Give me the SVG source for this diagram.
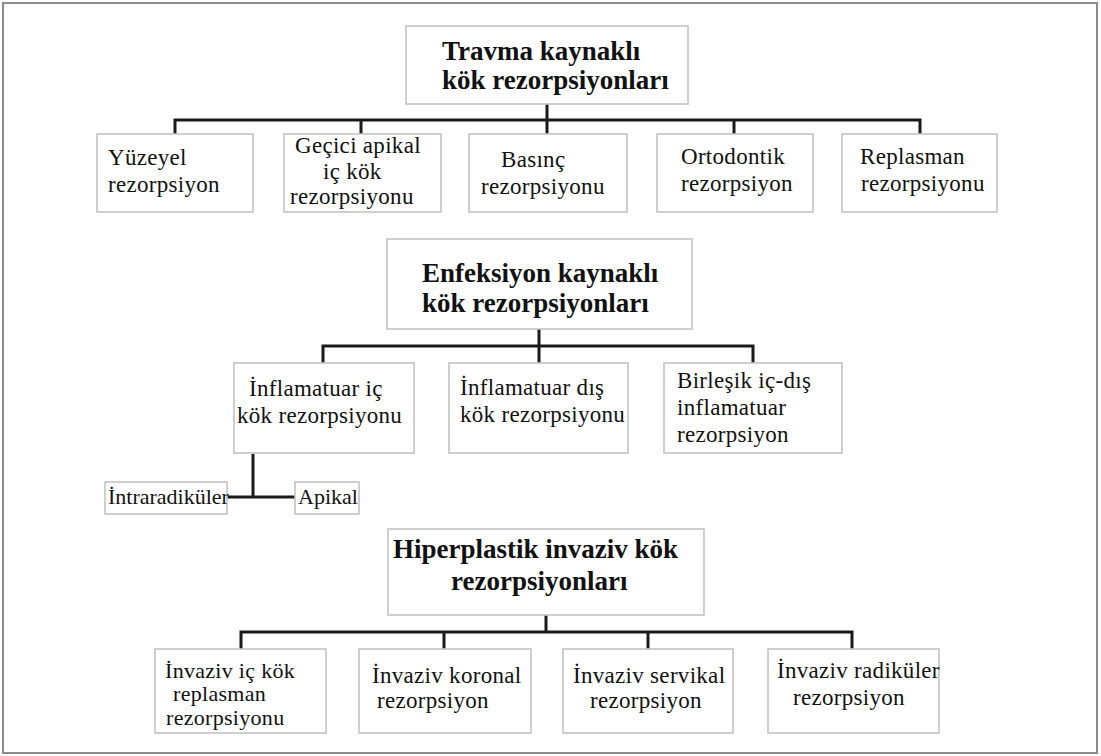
<svg xmlns="http://www.w3.org/2000/svg" width="1101" height="756" viewBox="0 0 1101 756">
<style>
.frame{fill:#fff;stroke:#8c8c8c;stroke-width:2}
.box{fill:#fff;stroke:#c4c4c4;stroke-width:1.6}
.conn{fill:none;stroke:#1a1a1a;stroke-width:3;stroke-linejoin:miter;stroke-linecap:butt}
.h{font-family:"Liberation Serif","Times New Roman",serif;font-weight:bold;font-size:27px;fill:#111}
.t{font-family:"Liberation Serif","Times New Roman",serif;font-size:23px;letter-spacing:0.3px;fill:#111}
.t2{font-family:"Liberation Serif","Times New Roman",serif;font-size:22px;letter-spacing:0.3px;fill:#111}
.s{font-family:"Liberation Serif","Times New Roman",serif;font-size:22px;fill:#111}
</style>
<rect class="frame" x="3" y="3" width="1094" height="750"/>

<g id="connectors">
  <path class="conn" d="M547 104 V135"/>
  <path class="conn" d="M175 134 V120 H920 V134"/>
  <path class="conn" d="M361 134 V120"/>
  <path class="conn" d="M734 134 V120"/>
  <path class="conn" d="M539 329 V364"/>
  <path class="conn" d="M323 364 V346 H753 V364"/>
  <path class="conn" d="M253 454 V497"/>
  <path class="conn" d="M227 497 H295"/>
  <path class="conn" d="M546 615 V632"/>
  <path class="conn" d="M241 649 V632 H852 V649"/>
  <path class="conn" d="M444 649 V632"/>
  <path class="conn" d="M648 649 V632"/>
</g>

<g id="root-travma">
  <rect class="box" x="406" y="26" width="282" height="78"/>
  <text class="h" x="442" y="60">Travma kaynaklı</text>
  <text class="h" x="442" y="89">kök rezorpsiyonları</text>
</g>
<g id="yuzeyel">
  <rect class="box" x="97" y="134" width="156" height="78"/>
  <text class="t" x="108" y="165">Yüzeyel</text>
  <text class="t" x="108" y="192">rezorpsiyon</text>
</g>
<g id="gecici">
  <rect class="box" x="284" y="134" width="157" height="78"/>
  <text class="t" x="295" y="153">Geçici apikal</text>
  <text class="t" x="323" y="179">iç kök</text>
  <text class="t" x="290" y="204">rezorpsiyonu</text>
</g>
<g id="basinc">
  <rect class="box" x="469" y="134" width="158" height="78"/>
  <text class="t" x="501" y="167">Basınç</text>
  <text class="t" x="481" y="194">rezorpsiyonu</text>
</g>
<g id="ortodontik">
  <rect class="box" x="657" y="134" width="156" height="78"/>
  <text class="t" x="681" y="164">Ortodontik</text>
  <text class="t" x="681" y="191">rezorpsiyon</text>
</g>
<g id="replasman">
  <rect class="box" x="842" y="134" width="155" height="78"/>
  <text class="t" x="860" y="164">Replasman</text>
  <text class="t" x="861" y="191">rezorpsiyonu</text>
</g>

<g id="root-enfeksiyon">
  <rect class="box" x="387" y="239" width="305" height="90"/>
  <text class="h" x="422" y="282">Enfeksiyon kaynaklı</text>
  <text class="h" x="422" y="312">kök rezorpsiyonları</text>
</g>
<g id="inflamatuar-ic">
  <rect class="box" x="234" y="363" width="180" height="90"/>
  <text class="t" x="249" y="396">İnflamatuar iç</text>
  <text class="t" x="237" y="423">kök rezorpsiyonu</text>
</g>
<g id="inflamatuar-dis">
  <rect class="box" x="449" y="363" width="179" height="90"/>
  <text class="t" x="460" y="395">İnflamatuar dış</text>
  <text class="t" x="460" y="422">kök rezorpsiyonu</text>
</g>
<g id="birlesik">
  <rect class="box" x="664" y="363" width="178" height="90"/>
  <text class="t" x="677" y="388">Birleşik iç-dış</text>
  <text class="t" x="677" y="415">inflamatuar</text>
  <text class="t" x="677" y="442">rezorpsiyon</text>
</g>
<g id="intraradikuler">
  <rect class="box" x="105" y="482" width="122" height="32"/>
  <text class="s" x="108" y="504">İntraradiküler</text>
</g>
<g id="apikal">
  <rect class="box" x="295" y="482" width="64" height="32"/>
  <text class="s" x="298" y="504">Apikal</text>
</g>

<g id="root-hiperplastik">
  <rect class="box" x="388" y="529" width="316" height="86"/>
  <text class="h" x="393" y="558">Hiperplastik invaziv kök</text>
  <text class="h" x="451" y="590">rezorpsiyonları</text>
</g>
<g id="invaziv-ic">
  <rect class="box" x="155" y="649" width="171" height="84"/>
  <text class="t2" x="165" y="678">İnvaziv iç kök</text>
  <text class="t2" x="173" y="701">replasman</text>
  <text class="t2" x="166" y="725">rezorpsiyonu</text>
</g>
<g id="invaziv-koronal">
  <rect class="box" x="359" y="649" width="172" height="84"/>
  <text class="t" x="372" y="683">İnvaziv koronal</text>
  <text class="t" x="377" y="708">rezorpsiyon</text>
</g>
<g id="invaziv-servikal">
  <rect class="box" x="563" y="649" width="170" height="84"/>
  <text class="t" x="573" y="683">İnvaziv servikal</text>
  <text class="t" x="590" y="708">rezorpsiyon</text>
</g>
<g id="invaziv-radikuler">
  <rect class="box" x="768" y="649" width="171" height="84"/>
  <text class="t" x="777" y="678">İnvaziv radiküler</text>
  <text class="t" x="793" y="705">rezorpsiyon</text>
</g>
</svg>
